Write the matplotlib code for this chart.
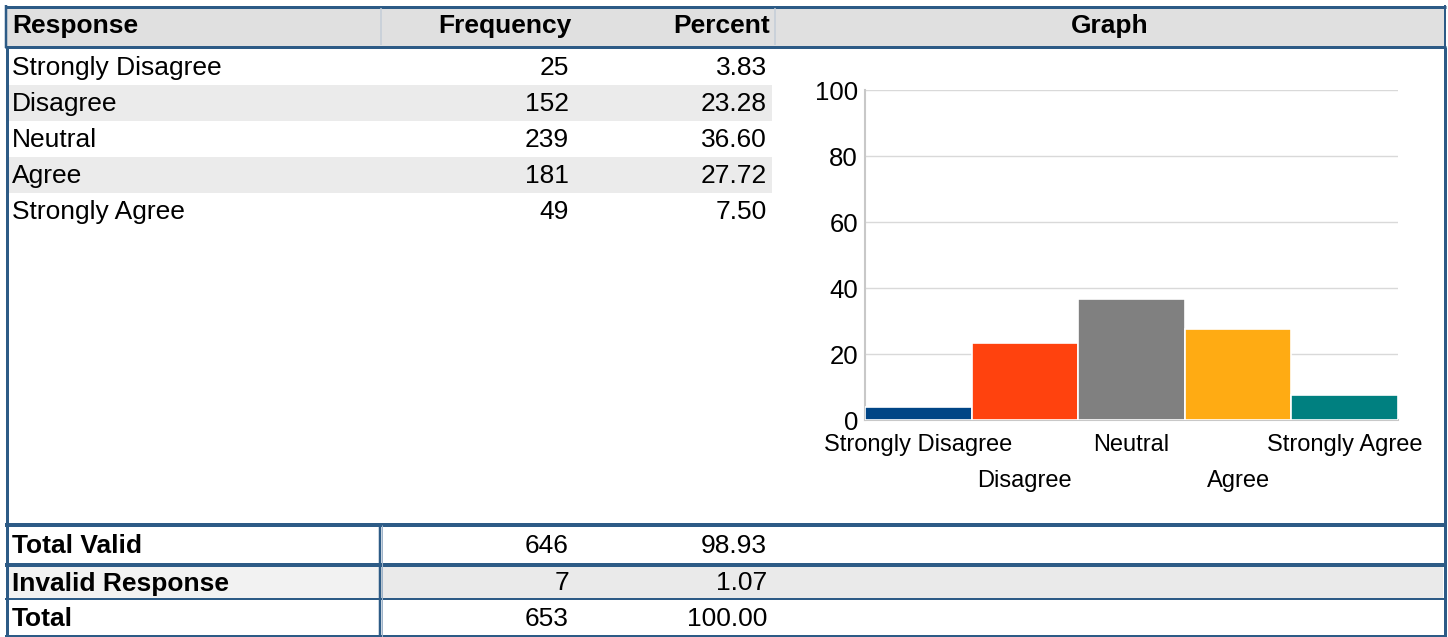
import matplotlib
matplotlib.use("Agg")
import matplotlib.pyplot as plt
from matplotlib.patches import Rectangle

plt.rcParams['font.family'] = ['Liberation Sans', 'DejaVu Sans']

# ---- data ----
responses = ["Strongly Disagree", "Disagree", "Neutral", "Agree", "Strongly Agree"]
frequency = [25, 152, 239, 181, 49]
percent = [3.83, 23.28, 36.60, 27.72, 7.50]
summary_labels = ["Total Valid", "Invalid Response", "Total"]
summary_freq = [646, 7, 653]
summary_pct = [98.93, 1.07, 100.00]
headers = ["Response", "Frequency", "Percent", "Graph"]
bar_colors = ["#004586", "#ff420e", "#808080", "#ffab13", "#008080"]
y_ticks = [0, 20, 40, 60, 80, 100]

W, H = 1448, 637
fig = plt.figure(figsize=(W / 100, H / 100), dpi=100)
ax = fig.add_axes([0, 0, 1, 1])
ax.set_xlim(0, W)
ax.set_ylim(H, 0)
ax.axis('off')

BLUE = "#2d5b86"
LIGHTBLUE = "#9fb3c8"
FS = 19
PX = 0.72  # points per pixel


def hline(y, x0, x1, w, c=BLUE):
    ax.plot([x0, x1], [y, y], color=c, lw=w * PX, solid_capstyle='butt', zorder=5)


def vline(x, y0, y1, w, c=BLUE):
    ax.plot([x, x], [y0, y1], color=c, lw=w * PX, solid_capstyle='butt', zorder=5)


# header
ax.add_patch(Rectangle((5, 7), 1441, 39, facecolor="#e0e0e0", edgecolor='none'))
hline(7, 5, 1446, 3)
hline(46.5, 5, 1446, 3)
vline(380.5, 8, 45, 1.5, "#c3cdd8")
vline(774.5, 8, 45, 1.5, "#c3cdd8")
vline(6, 5, 48, 2.5)
vline(1445, 5, 48, 2)

col_x = [12, 572, 770]
ax.text(col_x[0], 26, headers[0], fontsize=FS, fontweight='bold', ha='left', va='center')
ax.text(col_x[1], 26, headers[1], fontsize=FS, fontweight='bold', ha='right', va='center')
ax.text(col_x[2], 26, headers[2], fontsize=FS, fontweight='bold', ha='right', va='center')
ax.text(1110, 26, headers[3], fontsize=FS, fontweight='bold', ha='center', va='center')

# body rows
row_top = 49
row_h = 36
for i, (r, f, p) in enumerate(zip(responses, frequency, percent)):
    y0 = row_top + i * row_h
    if i % 2 == 1:
        ax.add_patch(Rectangle((8, y0), 764, row_h, facecolor="#ebebeb", edgecolor='none'))
    yc = y0 + row_h / 2 + 1
    ax.text(12, yc, r, fontsize=FS, ha='left', va='center')
    ax.text(569, yc, f"{f}", fontsize=FS, ha='right', va='center')
    ax.text(767, yc, f"{p:.2f}", fontsize=FS, ha='right', va='center')

# body outer borders
vline(6.5, 47, 637, 3)
vline(1444.5, 47, 637, 3)

# summary rows
sum_tops = [527, 567, 600]
sum_bots = [563, 598, 635]
ax.add_patch(Rectangle((8, 567), 372, 31, facecolor="#f2f2f2", edgecolor='none'))
ax.add_patch(Rectangle((380, 567), 1063, 31, facecolor="#eaeaea", edgecolor='none'))
hline(525, 5, 1446, 4)
hline(565, 5, 1446, 4)
hline(599, 5, 1446, 2)
hline(636, 5, 1446, 2)
vline(379.5, 525, 637, 2.5)
vline(381.5, 525, 637, 1, LIGHTBLUE)
for lab, f, p, t, b in zip(summary_labels, summary_freq, summary_pct, sum_tops, sum_bots):
    yc = (t + b) / 2 + 1
    ax.text(12, yc, lab, fontsize=FS, fontweight='bold', ha='left', va='center')
    ax.text(569, yc, f"{f}", fontsize=FS, ha='right', va='center')
    ax.text(767, yc, f"{p:.2f}", fontsize=FS, ha='right', va='center')

# ---- bar chart ----
cx0, cx1, cy0, cy1 = 865, 1398, 90, 420
cax = fig.add_axes([cx0 / W, (H - cy1) / H, (cx1 - cx0) / W, (cy1 - cy0) / H])
xpos = list(range(len(responses)))
cax.bar(xpos, percent, width=1.0, color=bar_colors, edgecolor='white', linewidth=1.2, zorder=3)
cax.set_xlim(-0.5, len(responses) - 0.5)
cax.set_ylim(0, 100)
cax.set_yticks(y_ticks)
cax.set_yticklabels([str(v) for v in y_ticks], fontsize=18.5)
cax.yaxis.grid(True, color="#d9d9d9", lw=1.0)
cax.set_axisbelow(True)
for s in ['top', 'right']:
    cax.spines[s].set_visible(False)
cax.spines['left'].set_color("#c8c8c8")
cax.spines['bottom'].set_color("#c8c8c8")
cax.spines['left'].set_linewidth(1.5)
cax.spines['bottom'].set_linewidth(1.5)
cax.tick_params(axis='both', which='both', length=0)
cax.tick_params(axis='y', pad=5)
# staggered category labels: even on major ticks, odd on minor ticks further down
cax.set_xticks(xpos[0::2])
cax.set_xticklabels(responses[0::2], fontsize=17)
cax.set_xticks(xpos[1::2], minor=True)
cax.set_xticklabels(responses[1::2], minor=True, fontsize=17)
cax.tick_params(axis='x', which='major', pad=10)
cax.tick_params(axis='x', which='minor', pad=10 + 36 * PX)
cax.patch.set_alpha(0)

fig.savefig("out.png", dpi=100)
